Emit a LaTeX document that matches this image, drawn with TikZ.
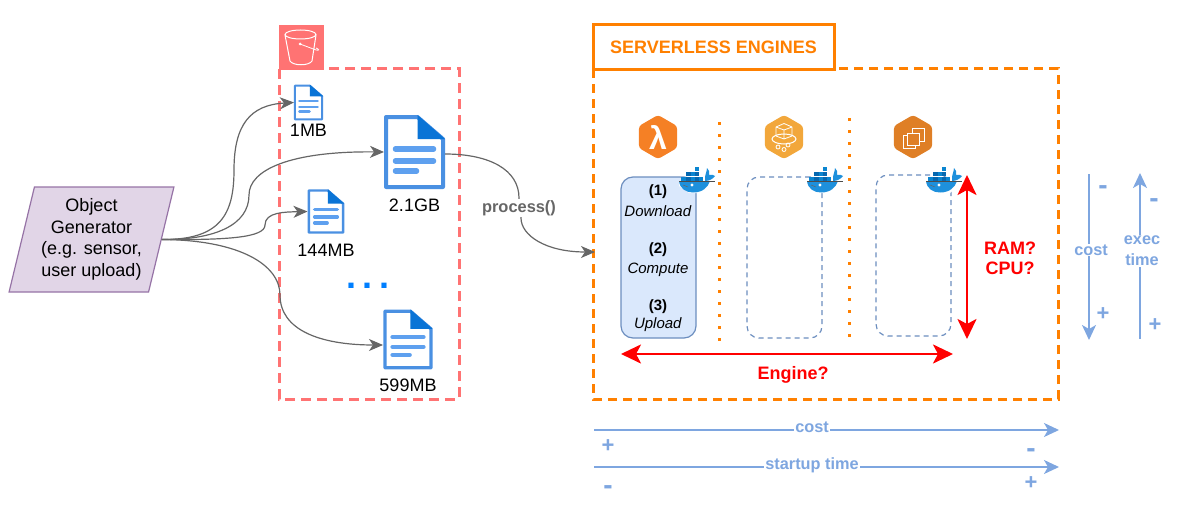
\documentclass[tikz,border=0pt]{standalone}
\usepackage{fontspec}
\setmainfont{Liberation Sans}
\usepackage{tikz}
\usetikzlibrary{arrows.meta,positioning,calc,shapes.geometric}

\definecolor{flowgray}{HTML}{666666}
\definecolor{genfill}{HTML}{E1D5E7}
\definecolor{genline}{HTML}{9673A6}
\definecolor{bucketred}{HTML}{FF7373}
\definecolor{engineorange}{HTML}{FF8000}
\definecolor{hintblue}{HTML}{7EA6E0}
\definecolor{docblue}{HTML}{4A90E2}
\definecolor{docdark}{HTML}{0A74D6}
\definecolor{docline}{HTML}{5EA0EF}
\definecolor{whaledark}{HTML}{0668B0}
\definecolor{whalemid}{HTML}{0A85D0}
\definecolor{whalelight}{HTML}{1E90DC}
\definecolor{dotblue}{HTML}{007FFF}
\definecolor{stagefill}{HTML}{DAE8FC}
\definecolor{stageline}{HTML}{6C8EBF}
\definecolor{lambdaorange}{HTML}{F58025}
\definecolor{fargateorange}{HTML}{F2A73B}
\definecolor{ecsorange}{HTML}{DF7F26}

\newcommand{\pxfont}[1]{\fontsize{#1}{#1}\selectfont}
\newcommand{\hintminus}{\pxfont{28}-}
\newcommand{\hintplus}{+}

\begin{document}
\begin{tikzpicture}[x=1pt,y=-1pt,
  flow/.style={draw=flowgray,line width=1.2pt},
  flowtip/.style={flow,-{Stealth[length=14pt,width=12pt,inset=4pt]}},
  hintline/.style={draw=hintblue,line width=1.5pt},
  hinttip/.style={hintline,-{Stealth[length=15pt,width=14pt,inset=4pt]}},
  hinttext/.style={text=hintblue,font=\pxfont{16.3}\bfseries,fill=white,inner sep=1pt,align=center},
  hintsign/.style={text=hintblue,font=\pxfont{22}\bfseries,inner sep=0pt},
  redtip/.style={draw=red,line width=2.6pt,{Stealth[length=20pt,width=19pt,inset=5pt]}-{Stealth[length=20pt,width=19pt,inset=5pt]}},
  redtext/.style={text=red,font=\pxfont{18}\bfseries,align=center},
  filelabel/.style={font=\pxfont{18},inner sep=0pt},
  stagetext/.style={font=\pxfont{15},inner sep=0pt},
  docbox/.style={inner sep=0pt,outer sep=0pt},
  hexbox/.style={regular polygon,regular polygon sides=6,shape border rotate=30,
    minimum size=44pt,inner sep=0pt,rounded corners=3pt},
  stagebox/.style={draw=stageline,rounded corners=12pt,line width=1.2pt,minimum width=75pt,
    minimum height=161pt,inner sep=0pt},
  stagedash/.style={stagebox,dash pattern=on 5pt off 4pt},
  dotline/.style={draw=engineorange,line width=3pt,dash pattern=on 3pt off 9pt},
  docicon/.pic={
    \draw[docblue,fill=white,line width={4pt*\s},line join=round]
      (-28.5,-35) -- (3,-35) -- (28.5,-13) -- (28.5,35) -- (-28.5,35) -- cycle;
    \fill[docdark] (3,-37) -- (30.5,-13) -- (3,-13) -- cycle;
    \draw[docline,line width={5.5pt*\s},line cap=round] (-19,-3) -- (19,-3);
    \draw[docline,line width={5.5pt*\s},line cap=round] (-19,9) -- (19,9);
    \draw[docline,line width={5.5pt*\s},line cap=round] (-19,19) -- (2,19);
  },
  whale/.pic={
    \fill[white] (-18,1) -- (17,1) -- (17,5) -- (6,13) -- (-8,13) -- (-18,6) -- cycle;
    \fill[whalemid] (-2,-13) rectangle (2,-9);
    \fill[whaledark] (-11,-8.5) rectangle (-6.5,-4);
    \fill[whalemid] (-6.5,-8.5) rectangle (-2,-4);
    \fill[whaledark] (-2,-8.5) rectangle (2,-4);
    \fill[whalemid] (-16,-3.5) rectangle (-11,1);
    \fill[whaledark] (-11,-3.5) rectangle (-6.5,1);
    \fill[whalemid] (-6.5,-3.5) rectangle (-2,1);
    \fill[whaledark] (-2,-3.5) rectangle (2,1);
    \fill[whalemid] (2,-3.5) rectangle (6,1);
    \fill[whalelight] (-18,1) .. controls (-17,9) and (-11,12.5) .. (-4,12.5)
      .. controls (6,12.5) and (11,7) .. (13,1) -- cycle;
    \fill[whalelight] (8,-3) .. controls (9,-8) and (10,-9) .. (10,-12)
      .. controls (12,-10) and (13,-8) .. (12,-5)
      .. controls (14,-6) and (17,-5) .. (18,-4)
      .. controls (16,-1) and (12,1) .. (8,1) -- cycle;
    \draw[black!70,line width=0.6pt] (-18,1.2) -- (18,1.2);
    \fill[white] (-5,5) circle (1.6pt);
    \draw[black!60,line width=0.5pt] (-14,5) -- (-9,7);
  }]

\useasboundingbox (0,0) rectangle (1181,511);

%% Generator
\node[trapezium,trapezium left angle=74.6,trapezium right angle=105.4,trapezium stretches=true,
  draw=genline,fill=genfill,minimum width=165pt,minimum height=105pt,inner sep=0pt,
  line width=1.2pt,align=center,font=\pxfont{18}] (gen) at (91.5,239.5)
  {Object\\[3.5pt]Generator\\[3.5pt](e.g. sensor,\\[3.5pt]user upload)};

%% Bucket area
\draw[draw=bucketred,line width=3pt,dash pattern=on 10pt off 6pt] (279,69) rectangle (459,399);
\node[fill=bucketred,minimum size=45pt,inner sep=0pt] (bucket) at (301.5,47.5) {};
\draw[white,line width=1pt] (285,35) -- (290,61) .. controls (293,66) and (309,66) .. (312,61) -- (316,35);
\draw[white,line width=1pt] (300.5,34.5) ellipse (15.5pt and 4.5pt);
\draw[white,line width=0.8pt] (300,44) -- (316,50) .. controls (320,51) and (319,49) .. (316,48);
\fill[white] (300,44) circle (1.5pt);

%% Files
\foreach \name/\x/\y/\w/\h/\s in {
  docone/308.5/102.5/29/35/0.48,
  doctwo/414.5/152/61/74/1,
  docthree/326/211.5/37/44/0.6,
  docfour/408/339.5/50/60/0.81
}{
  \node[docbox,minimum width=\w pt,minimum height=\h pt] (\name) at (\x,\y) {};
  \pic[scale=\s] at (\name) {docicon};
}
\node[filelabel,below=4pt of docone] (sizeone) {1MB};
\node[filelabel,below=10pt of doctwo] (sizetwo) {2.1GB};
\node[filelabel,below=10pt of docthree] (sizethree) {144MB};
\node[filelabel,below=9pt of docfour] (sizefour) {599MB};
\node[text=dotblue,font=\pxfont{36}\bfseries,inner sep=0pt] (dots) at (368,286)
  {.\hspace{6.5pt}.\hspace{6.5pt}.};

%% Flows out of the generator
\draw[flowtip] (gen.east) .. controls (220,240) and (234,215) .. (234,170)
  .. controls (234,125) and (250,105) .. (docone.west);
\draw[flowtip] (gen.east) .. controls (215,240) and (249,225) .. (249,195)
  .. controls (249,170) and (290,151) .. (doctwo.west);
\draw[flowtip] (gen.east) .. controls (225,240) and (265,238) .. (265,225)
  .. controls (265,212) and (285,212) .. (docthree.west);
\draw[flowtip] (gen.east) .. controls (240,240) and (280,265) .. (280,295)
  .. controls (280,330) and (320,345) .. ([yshift=-5.5pt]docfour.west);

%% Engines
\draw[draw=engineorange,line width=3pt,dash pattern=on 9pt off 6pt] (593,69) rectangle (1058,399);
\node[draw=engineorange,fill=white,line width=3pt,minimum width=241pt,minimum height=45pt,inner sep=0pt,
  text=engineorange,font=\pxfont{18}\bfseries] (engines) at (713.5,47) {SERVERLESS ENGINES};
\coordinate (engineentry) at (595,252);
\draw[flowtip] ([yshift=-2pt]doctwo.east) .. controls (490,154) and (519,170) .. (519,198)
  -- (521,218) .. controls (521,235) and (545,252) .. (engineentry);
\node[text=flowgray,fill=white,font=\pxfont{16.4}\bfseries,inner sep=1pt] (process) at (519,208) {process()};

\node[hexbox,fill=lambdaorange] (lambda) at (658,137) {};
\node[text=white,font=\pxfont{32}\bfseries,inner sep=0pt] (lambdaglyph) at (658,137) {λ};
\node[hexbox,fill=fargateorange] (fargate) at (784,137) {};
\node[hexbox,fill=ecsorange] (ecs) at (913,137) {};

%% Container glyph
\draw[white,line width=0.8pt,line join=round] (776,127) -- (784,123.5) -- (792,127) -- (792,136) -- (784,139) -- (776,136) -- cycle
  (776,127) -- (784,130) -- (792,127) (784,130) -- (784,139);
\draw[white,line width=1pt] (784,139) ellipse (12pt and 5pt);
\foreach \x/\y in {778/147, 784/149.5, 788/145}{
  \draw[white,line width=0.8pt] (\x,\y) circle (2pt);
}
%% Compute glyph
\draw[white,line width=0.7pt] (912,128) rectangle (924,141);
\draw[white,line width=0.7pt] (903,135) rectangle (915,148);
\draw[white,fill=ecsorange,line width=0.8pt] (907,133) rectangle (919,145);

%% Stages
\node[stagebox,fill=stagefill] (stageone) at (658.5,257.5) {};
\node[stagedash] (stagetwo) at (784.5,257.5) {};
\node[stagedash] (stagethree) at (913.5,255.5) {};
\foreach \name/\y/\txt in {
  numone/192/\textbf{(1)}, wordone/211/\textit{Download},
  numtwo/250/\textbf{(2)}, wordtwo/270/\textit{Compute},
  numthree/307/\textbf{(3)}, wordthree/325/\textit{Upload}
}{
  \node[stagetext] (\name) at (658,\y) {\txt};
}
\draw[dotline] (719,122) -- (719,342);
\draw[dotline] (849,118) -- (849,338);
\foreach \x/\y in {697/180, 825/180, 944/180}{
  \pic at (\x,\y) {whale};
}

%% Sizing arrows
\coordinate (ramtop) at (967,175);
\coordinate (rambottom) at (967,339);
\coordinate (engleft) at (621,354);
\coordinate (engright) at (953,354);
\draw[redtip] (ramtop) -- (rambottom);
\draw[redtip] (engleft) -- (engright);
\node[redtext] (ramlabel) at (1010,258) {RAM?\\[2pt]CPU?};
\node[redtext] (englabel) at (793,375) {Engine?};

%% Trade-off axes
\coordinate (costtop) at (1089,174);
\coordinate (costbottom) at (1089,340);
\coordinate (exectop) at (1140,173);
\coordinate (execbottom) at (1140,339);
\coordinate (hcoststart) at (594,430);
\coordinate (hcostend) at (1059,430);
\coordinate (hstartstart) at (594,467);
\coordinate (hstartend) at (1059,467);
\draw[hinttip] (costtop) -- (costbottom);
\draw[hinttip] (execbottom) -- (exectop);
\draw[hinttip] (hcoststart) -- (hcostend);
\draw[hinttip] (hstartstart) -- (hstartend);
\node[hinttext] (costv) at (1091,250) {cost};
\node[hinttext] (execv) at (1142,251) {exec\\[5pt]time};
\node[hinttext] (costh) at (812,427) {cost};
\node[hinttext] (starth) at (812,465) {startup time};
\foreach \name/\x/\y/\sign in {
  mina/1103/190/\hintminus, plusa/1103/314/\hintplus, minb/1154/203/\hintminus, plusb/1155/325/\hintplus,
  plusc/608/446/\hintplus, minc/1031/453/\hintminus, mind/608/490/\hintminus, plusd/1031/483/\hintplus
}{
  \node[hintsign] (\name) at (\x,\y) {\sign};
}

\end{tikzpicture}
\end{document}
